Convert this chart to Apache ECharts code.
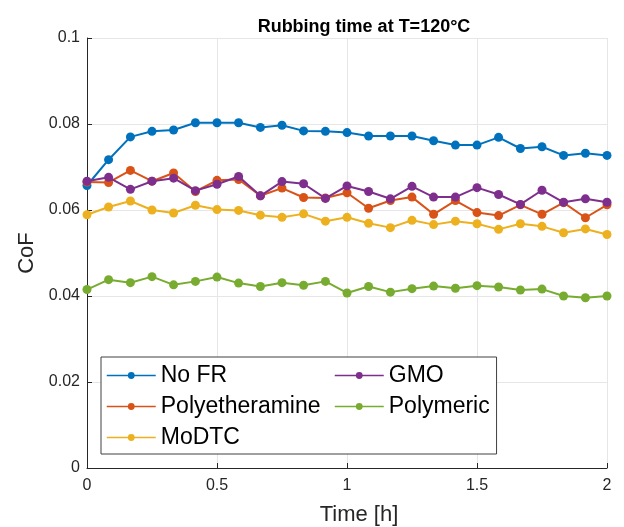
<!DOCTYPE html>
<html>
<head>
<meta charset="utf-8">
<script src="https://cdn.jsdelivr.net/npm/echarts@6/dist/echarts.min.js"></script>
<style>
  html, body { margin: 0; padding: 0; background: #fff; }
  #chart { width: 624px; height: 527px; }
</style>
</head>
<body>
<div id="chart"></div>
<script>
// Sampling times (h), one reading every 5 minutes over 2 hours
const timeH = [0, 0.083, 0.167, 0.25, 0.333, 0.417, 0.5, 0.583, 0.667, 0.75, 0.833, 0.917,
  1, 1.083, 1.167, 1.25, 1.333, 1.417, 1.5, 1.583, 1.667, 1.75, 1.833, 1.917, 2];

// Coefficient of friction per additive
const noFR = [0.0657, 0.0717, 0.0770, 0.0783, 0.0786, 0.0803, 0.0803, 0.0803, 0.0792, 0.0797, 0.0784, 0.0783,
  0.0780, 0.0772, 0.0772, 0.0772, 0.0761, 0.0751, 0.0751, 0.0769, 0.0743, 0.0747, 0.0727, 0.0732, 0.0727];
const polyetheramine = [0.0665, 0.0664, 0.0692, 0.0667, 0.0686, 0.0643, 0.0669, 0.0671, 0.0633, 0.0651, 0.0629, 0.0628,
  0.0640, 0.0604, 0.0622, 0.0630, 0.0590, 0.0622, 0.0594, 0.0587, 0.0612, 0.0590, 0.0617, 0.0582, 0.0612];
const moDTC = [0.0589, 0.0607, 0.0621, 0.0600, 0.0593, 0.0611, 0.0601, 0.0599, 0.0588, 0.0583, 0.0591, 0.0574,
  0.0583, 0.0569, 0.0559, 0.0576, 0.0566, 0.0574, 0.0568, 0.0555, 0.0568, 0.0562, 0.0547, 0.0556, 0.0543];
const gmo = [0.0667, 0.0676, 0.0648, 0.0667, 0.0674, 0.0645, 0.0660, 0.0678, 0.0633, 0.0666, 0.0661, 0.0627,
  0.0656, 0.0643, 0.0626, 0.0655, 0.0630, 0.0630, 0.0652, 0.0636, 0.0613, 0.0646, 0.0618, 0.0626, 0.0618];
const polymeric = [0.0415, 0.0438, 0.0431, 0.0445, 0.0426, 0.0434, 0.0444, 0.0430, 0.0422, 0.0431, 0.0425, 0.0434,
  0.0407, 0.0422, 0.0409, 0.0417, 0.0423, 0.0418, 0.0424, 0.0421, 0.0414, 0.0416, 0.0400, 0.0396, 0.0400];

const seriesNames = ['No FR', 'Polyetheramine', 'MoDTC', 'GMO', 'Polymeric'];
const seriesColors = ['#0072BD', '#D95319', '#EDB120', '#7E2F8E', '#77AC30'];
const seriesValues = [noFR, polyetheramine, moDTC, gmo, polymeric];

// Tick labels
const xTickLabels = ['0', '0.5', '1', '1.5', '2'];
const yTickLabels = ['0', '0.02', '0.04', '0.06', '0.08', '0.1'];

const FONT = '"Liberation Sans", Arial, Helvetica, sans-serif';
const AXIS_COLOR = '#262626';
const GRID_COLOR = '#e6e6e6';

const chart = echarts.init(document.getElementById('chart'), null, { renderer: 'canvas' });

const series = seriesNames.map((name, i) => ({
  name: name,
  type: 'line',
  data: timeH.map((t, k) => [t, seriesValues[i][k]]),
  symbol: 'circle',
  symbolSize: 9,
  showSymbol: true,
  color: seriesColors[i],
  lineStyle: { width: 2, color: seriesColors[i] },
  itemStyle: { color: seriesColors[i] },
  emphasis: { disabled: true },
  z: 2 + i
}));

const legendText = { fontFamily: FONT, fontSize: 23, color: '#000', lineHeight: 23 };

chart.setOption({
  animation: false,
  backgroundColor: '#fff',
  title: {
    text: 'Rubbing time at T=120°C',
    left: 359,
    top: 13,
    textAlign: 'center',
    textStyle: { fontFamily: FONT, fontSize: 18, fontWeight: 'bold', color: '#000' }
  },
  grid: {
    left: 87, right: 17, top: 38, bottom: 59,
    containLabel: false,
    outerBoundsMode: 'none'
  },
  legend: [
    {
      data: seriesNames.slice(0, 3),
      orient: 'vertical',
      left: 101, top: 357,
      padding: [7, 176, 5, 5],
      itemGap: 8,
      itemWidth: 49,
      itemHeight: 8.5,
      itemTextGap: 5,
      backgroundColor: '#fff',
      borderColor: '#404040',
      borderWidth: 1,
      borderRadius: 0,
      selectedMode: false,
      lineStyle: { width: 1.5 },
      textStyle: legendText,
      z: 10
    },
    {
      data: seriesNames.slice(3),
      orient: 'vertical',
      left: 334, top: 364,
      padding: 0,
      itemGap: 8,
      itemWidth: 49,
      itemHeight: 8.5,
      itemTextGap: 5,
      selectedMode: false,
      lineStyle: { width: 1.5 },
      textStyle: legendText,
      z: 11
    }
  ],
  xAxis: {
    type: 'value',
    min: 0, max: 2, interval: 0.5,
    name: 'Time [h]',
    nameLocation: 'middle',
    nameGap: 36,
    nameTextStyle: { fontFamily: FONT, fontSize: 22, color: AXIS_COLOR, padding: [0, 0, 0, 24] },
    axisLine: { show: true, onZero: false, lineStyle: { color: AXIS_COLOR, width: 1 } },
    axisTick: { show: true, inside: true, length: 5, lineStyle: { color: AXIS_COLOR, width: 1 } },
    axisLabel: {
      fontFamily: FONT, fontSize: 16, color: AXIS_COLOR, margin: 10,
      formatter: (v) => xTickLabels[Math.round(v / 0.5)]
    },
    splitLine: { show: true, lineStyle: { color: GRID_COLOR, width: 1 } }
  },
  yAxis: {
    type: 'value',
    min: 0, max: 0.1, interval: 0.02,
    name: 'CoF',
    nameLocation: 'middle',
    nameGap: 47,
    nameTextStyle: { fontFamily: FONT, fontSize: 22, color: AXIS_COLOR },
    axisLine: { show: true, onZero: false, lineStyle: { color: AXIS_COLOR, width: 1 } },
    axisTick: { show: true, inside: true, length: 5, lineStyle: { color: AXIS_COLOR, width: 1 } },
    axisLabel: {
      fontFamily: FONT, fontSize: 16, color: AXIS_COLOR, margin: 7,
      formatter: (v) => yTickLabels[Math.round(v / 0.02)]
    },
    splitLine: { show: true, lineStyle: { color: GRID_COLOR, width: 1 } }
  },
  series: series
});
</script>
</body>
</html>
